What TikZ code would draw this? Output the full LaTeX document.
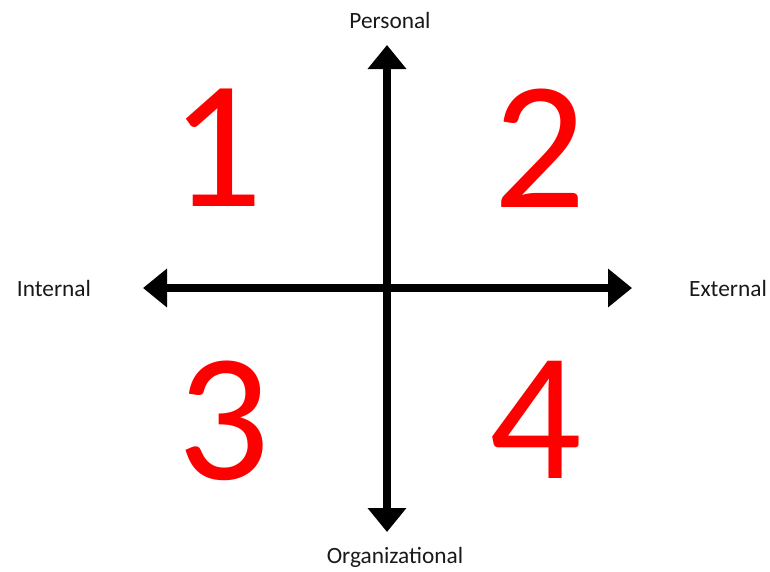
\documentclass[tikz,border=0pt]{standalone}
\usepackage{fontspec}
\setmainfont{Carlito}
\usetikzlibrary{arrows.meta}
\definecolor{qred}{RGB}{255,0,0}
\tikzset{
  axisline/.style={line width=6pt, -{Triangle[length=18pt,width=28pt]}},
  axislabel/.style={font=\fontsize{17.5}{20}\selectfont, text=black!90, inner sep=0pt},
  quadnum/.style={font=\fontsize{137}{145}\selectfont, text=qred, inner sep=0pt}
}
\begin{document}
\begin{tikzpicture}[x=0.75pt,y=-0.75pt]
\useasboundingbox (0,0) rectangle (770,571);
\coordinate (o) at (387,288);
\coordinate (top) at (387,45);
\coordinate (bot) at (387,532);
\coordinate (lft) at (143,288);
\coordinate (rgt) at (632,288);
\draw[axisline] (o) -- (top);
\draw[axisline] (o) -- (bot);
\draw[axisline] (o) -- (lft);
\draw[axisline] (o) -- (rgt);
\node[axislabel] (personal) at (390,20) {Personal};
\node[axislabel] (internal) at (54,288) {Internal};
\node[axislabel] (external) at (728,288) {External};
\node[axislabel] (org) at (395,557) {Organizational};
\node[quadnum] (q1) at (217,148) {1};
\node[quadnum] (q2) at (540,148) {2};
\node[quadnum] (q3) at (224,421) {3};
\node[quadnum] (q4) at (536,420) {4};
\end{tikzpicture}
\end{document}
